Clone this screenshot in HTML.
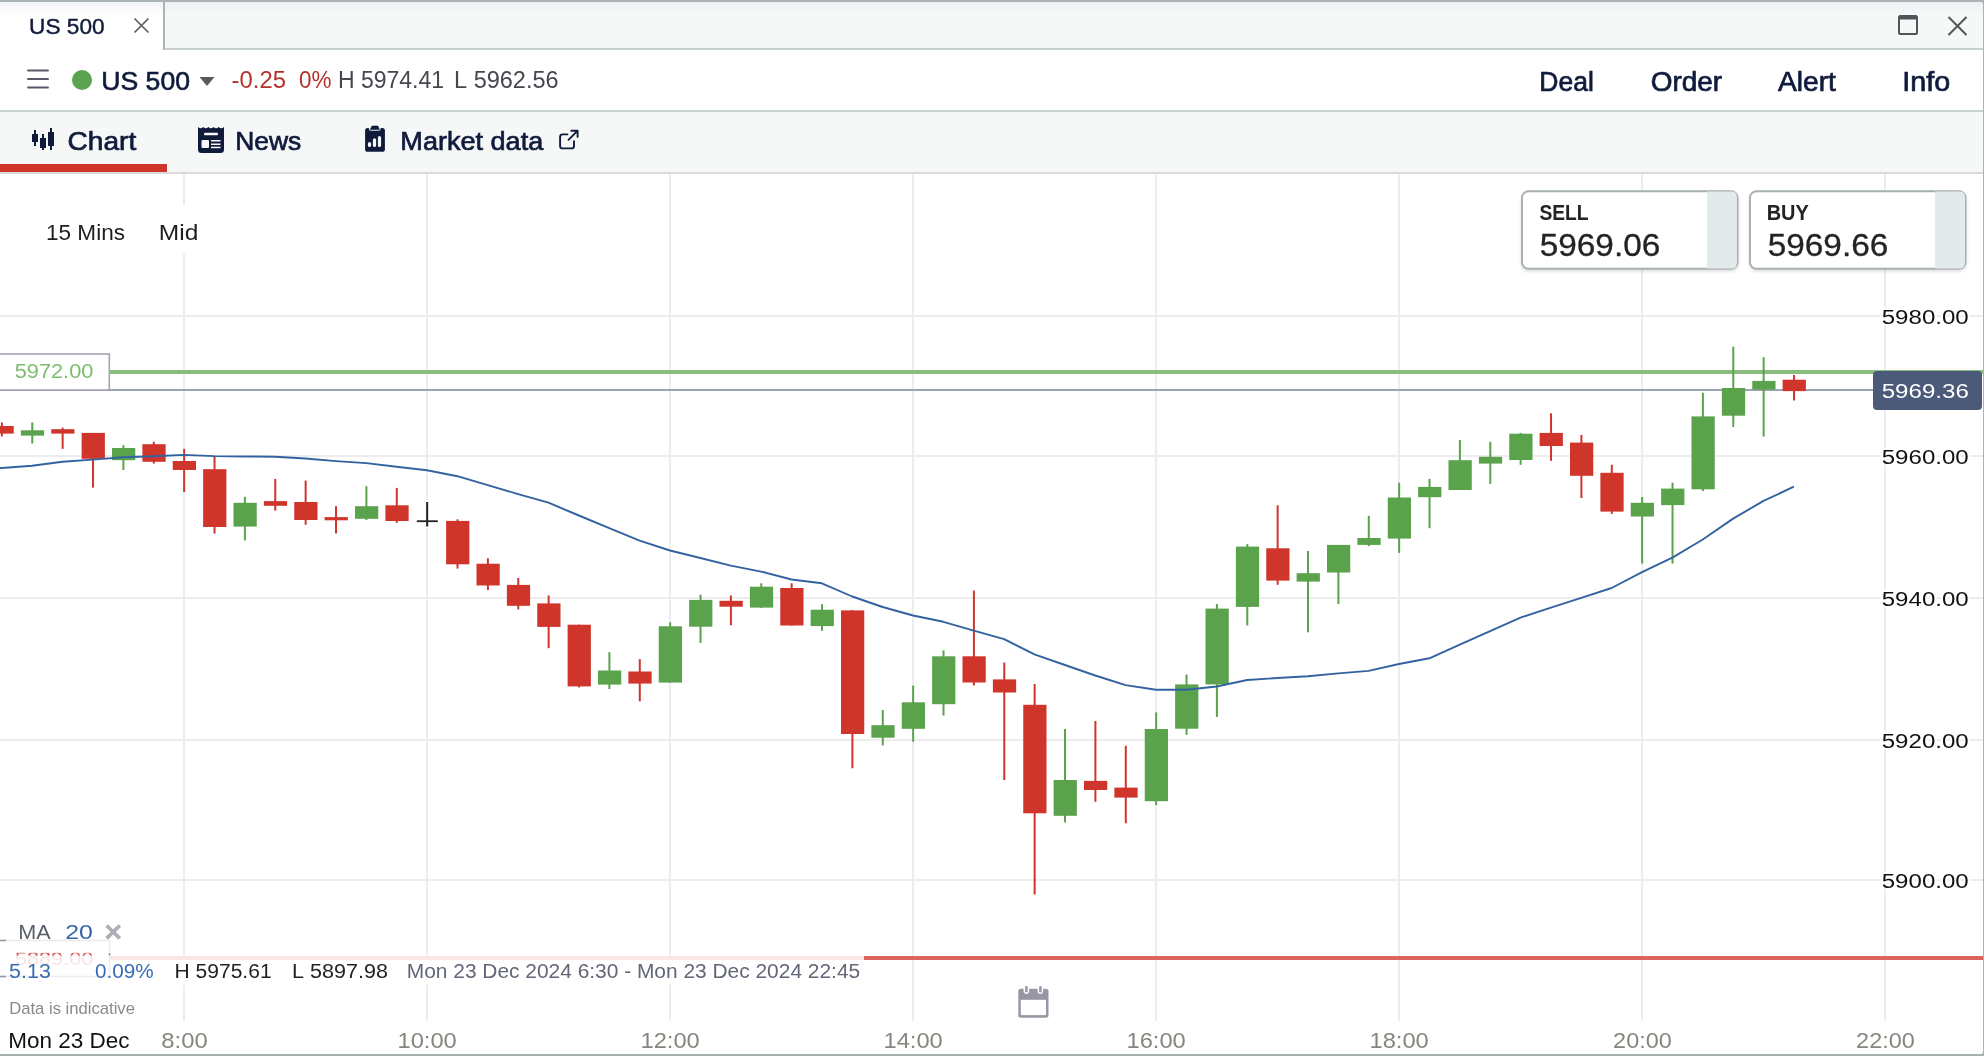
<!DOCTYPE html>
<html><head><meta charset="utf-8"><title>US 500 chart</title>
<style>
html,body{margin:0;padding:0;background:#fff;width:1984px;height:1056px;overflow:hidden}
svg{display:block;will-change:transform;font-family:"Liberation Sans",sans-serif;font-kerning:none}
text{font-kerning:none}
</style></head><body>
<svg width="1984" height="1056" viewBox="0 0 1984 1056">
<rect x="0" y="0" width="1984" height="1056" fill="#ffffff"/>
<defs><linearGradient id="tg" x1="0" y1="0" x2="0" y2="1"><stop offset="0" stop-color="#f1f4f6"/><stop offset="0.3" stop-color="#ffffff"/></linearGradient><linearGradient id="tg2" x1="0" y1="0" x2="0" y2="1"><stop offset="0" stop-color="#eef1f3"/><stop offset="0.3" stop-color="#f6f8f8"/></linearGradient><filter id="sh" x="-5%" y="-5%" width="110%" height="130%"><feDropShadow dx="0" dy="2" stdDeviation="1.5" flood-color="#000" flood-opacity="0.12"/></filter></defs>
<rect x="0" y="0" width="1984" height="50" fill="url(#tg2)"/>
<rect x="0" y="2" width="163" height="48" fill="url(#tg)"/>
<rect x="0" y="0" width="1984" height="2" fill="#aab3b6"/>
<rect x="163" y="2" width="2" height="48" fill="#adb4b7"/>
<rect x="165" y="48" width="1819" height="2" fill="#c7ced1"/>
<rect x="0" y="50" width="1984" height="60" fill="#ffffff"/>
<rect x="0" y="110" width="1984" height="2" fill="#c8d2d2"/>
<rect x="0" y="112" width="1984" height="60" fill="#f6f8f8"/>
<rect x="0" y="164" width="167" height="8" fill="#cf352b"/>
<rect x="0" y="172" width="1984" height="2" fill="#d8dadd"/>
<rect x="0" y="174" width="1984" height="880" fill="#ffffff"/>
<text x="29.05" y="33.90" font-size="22.00" fill="#101b3c" stroke="#101b3c" stroke-width="0.40" textLength="75.53" lengthAdjust="spacingAndGlyphs">US 500</text>
<path d="M134.5 18.5 L148.5 32.5 M148.5 18.5 L134.5 32.5" stroke="#555a5e" stroke-width="1.6" fill="none"/>
<rect x="1899" y="16" width="18" height="18" rx="1.5" fill="none" stroke="#4f5558" stroke-width="2"/>
<rect x="1899" y="15.5" width="18" height="4" fill="#4f5558"/>
<path d="M1948.5 17 L1966.5 35 M1966.5 17 L1948.5 35" stroke="#4f5558" stroke-width="2" fill="none"/>
<line x1="28" y1="70.5" x2="48" y2="70.5" stroke="#5b5868" stroke-width="2" stroke-linecap="round"/>
<line x1="28" y1="79" x2="48" y2="79" stroke="#5b5868" stroke-width="2" stroke-linecap="round"/>
<line x1="28" y1="87.5" x2="48" y2="87.5" stroke="#5b5868" stroke-width="2" stroke-linecap="round"/>
<circle cx="82" cy="80" r="10" fill="#5aa34e"/>
<text x="101.25" y="89.80" font-size="25.40" fill="#101b3c" stroke="#101b3c" stroke-width="0.60" textLength="88.79" lengthAdjust="spacingAndGlyphs">US 500</text>
<path d="M199.5 77 L214.5 77 L207 86 Z" fill="#565b5e"/>
<text x="231.64" y="88.20" font-size="23.00" fill="#b5322b" textLength="54.36" lengthAdjust="spacingAndGlyphs">-0.25</text>
<text x="299.02" y="88.20" font-size="23.00" fill="#b5322b" textLength="32.48" lengthAdjust="spacingAndGlyphs">0%</text>
<text x="337.91" y="88.20" font-size="23.00" fill="#45484f" textLength="106.11" lengthAdjust="spacingAndGlyphs">H 5974.41</text>
<text x="454.07" y="88.20" font-size="23.00" fill="#45484f" textLength="104.56" lengthAdjust="spacingAndGlyphs">L 5962.56</text>
<text x="1539.33" y="90.50" font-size="27.00" fill="#101b3c" stroke="#101b3c" stroke-width="0.70" textLength="54.44" lengthAdjust="spacingAndGlyphs">Deal</text>
<text x="1650.68" y="90.50" font-size="27.00" fill="#101b3c" stroke="#101b3c" stroke-width="0.70" textLength="71.39" lengthAdjust="spacingAndGlyphs">Order</text>
<text x="1777.94" y="90.50" font-size="27.00" fill="#101b3c" stroke="#101b3c" stroke-width="0.70" textLength="57.96" lengthAdjust="spacingAndGlyphs">Alert</text>
<text x="1902.35" y="90.50" font-size="27.00" fill="#101b3c" stroke="#101b3c" stroke-width="0.70" textLength="47.85" lengthAdjust="spacingAndGlyphs">Info</text>
<rect x="32" y="134" width="6" height="8" fill="#101b3c"/>
<rect x="34" y="130" width="2" height="16" fill="#101b3c"/>
<rect x="40" y="138" width="6" height="10" fill="#101b3c"/>
<rect x="42" y="134" width="2" height="16" fill="#101b3c"/>
<rect x="48" y="132" width="6" height="14" fill="#101b3c"/>
<rect x="50" y="128" width="2" height="22" fill="#101b3c"/>
<text x="67.57" y="149.80" font-size="26.00" fill="#101b3c" stroke="#101b3c" stroke-width="0.70" textLength="68.63" lengthAdjust="spacingAndGlyphs">Chart</text>
<path d="M198 127 q2.6 2.6 5.2 0 q2.6 2.6 5.2 0 q2.6 2.6 5.2 0 q2.6 2.6 5.2 0 q2.6 2.6 5.2 0 L224 149.5 q0 3.5 -3.5 3.5 L201.5 153 q-3.5 0 -3.5 -3.5 Z" fill="#101b3c"/>
<rect x="204" y="132.8" width="14" height="2.5" fill="#f6f8f8" rx="1"/>
<rect x="201.5" y="140" width="7.5" height="8" fill="#f6f8f8" rx="1"/>
<rect x="211" y="140" width="9.5" height="1.5" fill="#f6f8f8"/>
<rect x="211" y="143.5" width="9.5" height="1.5" fill="#f6f8f8"/>
<rect x="211" y="146.7" width="9.5" height="1.5" fill="#f6f8f8"/>
<text x="235.23" y="149.80" font-size="26.00" fill="#101b3c" stroke="#101b3c" stroke-width="0.70" textLength="66.02" lengthAdjust="spacingAndGlyphs">News</text>
<rect x="365.1" y="128" width="19.8" height="23.8" rx="2.6" fill="#101b3c"/>
<rect x="368.9" y="124" width="11.7" height="6.7" rx="1.8" fill="#f6f8f8"/>
<path d="M370.2 129.6 L372.1 126 L377.9 126 L379.4 129.6 Z" fill="#101b3c" stroke="#101b3c" stroke-width="0.6" stroke-linejoin="round"/>
<rect x="367.9" y="142" width="3.2" height="5" fill="#f6f8f8" rx="1.6"/>
<rect x="372.9" y="138.3" width="3.2" height="8.7" fill="#f6f8f8" rx="1.6"/>
<rect x="377.9" y="136" width="3.2" height="11" fill="#f6f8f8" rx="1.6"/>
<text x="400.38" y="149.60" font-size="26.00" fill="#101b3c" stroke="#101b3c" stroke-width="0.70" textLength="142.82" lengthAdjust="spacingAndGlyphs">Market data</text>
<path d="M567.4 134.4 L562.6 134.4 Q560.1 134.4 560.1 136.9 L560.1 145.9 Q560.1 148.4 562.6 148.4 L571.5 148.4 Q574 148.4 574 145.9 L574 141.2" fill="none" stroke="#101b3c" stroke-width="1.9" stroke-linecap="round"/>
<path d="M568.5 139.8 L577.4 130.9 M571.3 130.7 L577.6 130.7 L577.6 136.9" fill="none" stroke="#101b3c" stroke-width="1.9" stroke-linecap="round" stroke-linejoin="round"/>
<rect x="183" y="174" width="2" height="847" fill="#ededf0"/>
<rect x="426" y="174" width="2" height="847" fill="#ededf0"/>
<rect x="669" y="174" width="2" height="847" fill="#ededf0"/>
<rect x="912" y="174" width="2" height="847" fill="#ededf0"/>
<rect x="1155" y="174" width="2" height="847" fill="#ededf0"/>
<rect x="1398" y="174" width="2" height="847" fill="#ededf0"/>
<rect x="1641" y="174" width="2" height="847" fill="#ededf0"/>
<rect x="1884" y="174" width="2" height="847" fill="#ededf0"/>
<rect x="0" y="315" width="1983" height="2" fill="#ededf0"/>
<rect x="0" y="455" width="1983" height="2" fill="#ededf0"/>
<rect x="0" y="597" width="1983" height="2" fill="#ededf0"/>
<rect x="0" y="739" width="1983" height="2" fill="#ededf0"/>
<rect x="0" y="879" width="1983" height="2" fill="#ededf0"/>
<rect x="30" y="205" width="185" height="49" fill="#ffffff"/>
<text x="45.98" y="239.60" font-size="21.80" fill="#1e1e22" textLength="79.03" lengthAdjust="spacingAndGlyphs">15 Mins</text>
<text x="158.79" y="239.60" font-size="21.80" fill="#1e1e22" textLength="39.49" lengthAdjust="spacingAndGlyphs">Mid</text>
<rect x="110" y="370" width="1873" height="4" fill="#89bd7e"/>
<rect x="0" y="389" width="1873" height="2" fill="#9ba4b5"/>
<rect x="110" y="956" width="1873" height="4" fill="#dc645f"/>
<rect x="0.90" y="422.4" width="2" height="14.0" fill="#cf352b"/>
<rect x="-9.50" y="426.0" width="23.25" height="7.6" fill="#cf352b"/>
<rect x="31.27" y="422.4" width="2" height="21.1" fill="#5aa24c"/>
<rect x="20.88" y="430.3" width="23.25" height="5.3" fill="#5aa24c"/>
<rect x="61.65" y="427.7" width="2" height="21.1" fill="#cf352b"/>
<rect x="51.25" y="429.2" width="23.25" height="4.4" fill="#cf352b"/>
<rect x="92.03" y="432.9" width="2" height="54.7" fill="#cf352b"/>
<rect x="81.62" y="432.9" width="23.25" height="25.9" fill="#cf352b"/>
<rect x="122.40" y="445.2" width="2" height="24.8" fill="#5aa24c"/>
<rect x="112.00" y="448.0" width="23.25" height="12.2" fill="#5aa24c"/>
<rect x="152.78" y="441.7" width="2" height="21.9" fill="#cf352b"/>
<rect x="142.38" y="444.2" width="23.25" height="17.6" fill="#cf352b"/>
<rect x="183.15" y="448.8" width="2" height="43.2" fill="#cf352b"/>
<rect x="172.75" y="461.0" width="23.25" height="9.0" fill="#cf352b"/>
<rect x="213.53" y="457.0" width="2" height="76.5" fill="#cf352b"/>
<rect x="203.12" y="469.2" width="23.25" height="57.8" fill="#cf352b"/>
<rect x="243.90" y="496.7" width="2" height="43.7" fill="#5aa24c"/>
<rect x="233.50" y="502.8" width="23.25" height="23.8" fill="#5aa24c"/>
<rect x="274.27" y="479.0" width="2" height="31.6" fill="#cf352b"/>
<rect x="263.88" y="501.1" width="23.25" height="4.7" fill="#cf352b"/>
<rect x="304.65" y="480.6" width="2" height="44.1" fill="#cf352b"/>
<rect x="294.25" y="502.0" width="23.25" height="18.0" fill="#cf352b"/>
<rect x="335.02" y="506.2" width="2" height="27.3" fill="#cf352b"/>
<rect x="324.62" y="517.1" width="23.25" height="3.2" fill="#cf352b"/>
<rect x="365.40" y="486.2" width="2" height="33.8" fill="#5aa24c"/>
<rect x="355.00" y="506.2" width="23.25" height="12.6" fill="#5aa24c"/>
<rect x="395.77" y="487.9" width="2" height="34.9" fill="#cf352b"/>
<rect x="385.38" y="505.3" width="23.25" height="15.7" fill="#cf352b"/>
<rect x="426.15" y="502.0" width="2" height="24.5" fill="#232327"/>
<rect x="425.15" y="500.5" width="4" height="27.5" fill="#ffffff"/>
<rect x="426.15" y="502.0" width="2" height="24.5" fill="#232327"/>
<rect x="416.80" y="520.3" width="21" height="1.8" fill="#232327"/>
<rect x="456.52" y="519.3" width="2" height="49.3" fill="#cf352b"/>
<rect x="446.12" y="520.9" width="23.25" height="43.4" fill="#cf352b"/>
<rect x="486.90" y="558.3" width="2" height="31.6" fill="#cf352b"/>
<rect x="476.50" y="563.7" width="23.25" height="21.8" fill="#cf352b"/>
<rect x="517.27" y="578.0" width="2" height="31.4" fill="#cf352b"/>
<rect x="506.88" y="584.9" width="23.25" height="20.9" fill="#cf352b"/>
<rect x="547.65" y="595.5" width="2" height="52.7" fill="#cf352b"/>
<rect x="537.25" y="603.4" width="23.25" height="23.5" fill="#cf352b"/>
<rect x="578.02" y="624.7" width="2" height="62.7" fill="#cf352b"/>
<rect x="567.62" y="624.7" width="23.25" height="61.7" fill="#cf352b"/>
<rect x="608.40" y="652.2" width="2" height="36.8" fill="#5aa24c"/>
<rect x="598.00" y="670.5" width="23.25" height="14.1" fill="#5aa24c"/>
<rect x="638.77" y="659.1" width="2" height="42.2" fill="#cf352b"/>
<rect x="628.38" y="671.5" width="23.25" height="12.1" fill="#cf352b"/>
<rect x="669.15" y="622.3" width="2" height="60.3" fill="#5aa24c"/>
<rect x="658.75" y="626.3" width="23.25" height="56.3" fill="#5aa24c"/>
<rect x="699.52" y="594.7" width="2" height="48.2" fill="#5aa24c"/>
<rect x="689.12" y="599.9" width="23.25" height="26.8" fill="#5aa24c"/>
<rect x="729.90" y="595.5" width="2" height="29.8" fill="#cf352b"/>
<rect x="719.50" y="600.8" width="23.25" height="5.9" fill="#cf352b"/>
<rect x="760.27" y="583.3" width="2" height="24.6" fill="#5aa24c"/>
<rect x="749.88" y="586.7" width="23.25" height="20.9" fill="#5aa24c"/>
<rect x="790.65" y="583.3" width="2" height="42.3" fill="#cf352b"/>
<rect x="780.25" y="588.0" width="23.25" height="37.5" fill="#cf352b"/>
<rect x="821.02" y="604.2" width="2" height="26.6" fill="#5aa24c"/>
<rect x="810.62" y="609.7" width="23.25" height="16.4" fill="#5aa24c"/>
<rect x="851.40" y="610.0" width="2" height="158.3" fill="#cf352b"/>
<rect x="841.00" y="610.4" width="23.25" height="123.6" fill="#cf352b"/>
<rect x="881.77" y="710.0" width="2" height="35.4" fill="#5aa24c"/>
<rect x="871.38" y="725.2" width="23.25" height="12.5" fill="#5aa24c"/>
<rect x="912.15" y="685.6" width="2" height="56.1" fill="#5aa24c"/>
<rect x="901.75" y="702.3" width="23.25" height="26.5" fill="#5aa24c"/>
<rect x="942.52" y="650.4" width="2" height="65.1" fill="#5aa24c"/>
<rect x="932.12" y="656.3" width="23.25" height="47.9" fill="#5aa24c"/>
<rect x="972.90" y="590.6" width="2" height="94.8" fill="#cf352b"/>
<rect x="962.50" y="656.3" width="23.25" height="26.2" fill="#cf352b"/>
<rect x="1003.27" y="662.5" width="2" height="117.5" fill="#cf352b"/>
<rect x="992.88" y="679.4" width="23.25" height="13.1" fill="#cf352b"/>
<rect x="1033.65" y="684.0" width="2" height="210.5" fill="#cf352b"/>
<rect x="1023.25" y="704.8" width="23.25" height="108.5" fill="#cf352b"/>
<rect x="1064.03" y="729.0" width="2" height="93.4" fill="#5aa24c"/>
<rect x="1053.62" y="780.0" width="23.25" height="35.8" fill="#5aa24c"/>
<rect x="1094.40" y="720.9" width="2" height="80.9" fill="#cf352b"/>
<rect x="1084.00" y="780.9" width="23.25" height="9.1" fill="#cf352b"/>
<rect x="1124.78" y="745.8" width="2" height="77.5" fill="#cf352b"/>
<rect x="1114.38" y="787.6" width="23.25" height="10.0" fill="#cf352b"/>
<rect x="1155.15" y="712.4" width="2" height="92.8" fill="#5aa24c"/>
<rect x="1144.75" y="729.0" width="23.25" height="72.2" fill="#5aa24c"/>
<rect x="1185.53" y="674.6" width="2" height="60.3" fill="#5aa24c"/>
<rect x="1175.12" y="684.4" width="23.25" height="44.3" fill="#5aa24c"/>
<rect x="1215.90" y="604.0" width="2" height="112.9" fill="#5aa24c"/>
<rect x="1205.50" y="608.6" width="23.25" height="75.8" fill="#5aa24c"/>
<rect x="1246.28" y="544.1" width="2" height="81.3" fill="#5aa24c"/>
<rect x="1235.88" y="546.6" width="23.25" height="60.3" fill="#5aa24c"/>
<rect x="1276.65" y="505.3" width="2" height="79.5" fill="#cf352b"/>
<rect x="1266.25" y="548.3" width="23.25" height="32.3" fill="#cf352b"/>
<rect x="1307.03" y="551.0" width="2" height="81.3" fill="#5aa24c"/>
<rect x="1296.62" y="573.2" width="23.25" height="8.4" fill="#5aa24c"/>
<rect x="1337.40" y="545.0" width="2" height="59.0" fill="#5aa24c"/>
<rect x="1327.00" y="544.9" width="23.25" height="27.6" fill="#5aa24c"/>
<rect x="1367.78" y="515.8" width="2" height="30.3" fill="#5aa24c"/>
<rect x="1357.38" y="538.0" width="23.25" height="6.9" fill="#5aa24c"/>
<rect x="1398.15" y="482.7" width="2" height="70.2" fill="#5aa24c"/>
<rect x="1387.75" y="497.5" width="23.25" height="41.1" fill="#5aa24c"/>
<rect x="1428.53" y="478.9" width="2" height="49.3" fill="#5aa24c"/>
<rect x="1418.12" y="486.9" width="23.25" height="10.3" fill="#5aa24c"/>
<rect x="1458.90" y="440.0" width="2" height="50.0" fill="#5aa24c"/>
<rect x="1448.50" y="460.2" width="23.25" height="29.8" fill="#5aa24c"/>
<rect x="1489.28" y="441.8" width="2" height="42.1" fill="#5aa24c"/>
<rect x="1478.88" y="456.8" width="23.25" height="6.8" fill="#5aa24c"/>
<rect x="1519.65" y="432.9" width="2" height="31.9" fill="#5aa24c"/>
<rect x="1509.25" y="433.7" width="23.25" height="26.3" fill="#5aa24c"/>
<rect x="1550.03" y="413.3" width="2" height="47.5" fill="#cf352b"/>
<rect x="1539.62" y="432.9" width="23.25" height="13.1" fill="#cf352b"/>
<rect x="1580.40" y="434.9" width="2" height="63.1" fill="#cf352b"/>
<rect x="1570.00" y="442.6" width="23.25" height="33.2" fill="#cf352b"/>
<rect x="1610.78" y="464.8" width="2" height="49.1" fill="#cf352b"/>
<rect x="1600.38" y="472.8" width="23.25" height="38.8" fill="#cf352b"/>
<rect x="1641.15" y="496.9" width="2" height="66.7" fill="#5aa24c"/>
<rect x="1630.75" y="502.8" width="23.25" height="13.7" fill="#5aa24c"/>
<rect x="1671.53" y="482.7" width="2" height="80.9" fill="#5aa24c"/>
<rect x="1661.12" y="488.6" width="23.25" height="16.5" fill="#5aa24c"/>
<rect x="1701.90" y="392.7" width="2" height="98.3" fill="#5aa24c"/>
<rect x="1691.50" y="416.4" width="23.25" height="72.9" fill="#5aa24c"/>
<rect x="1732.28" y="346.6" width="2" height="80.4" fill="#5aa24c"/>
<rect x="1721.88" y="388.0" width="23.25" height="27.7" fill="#5aa24c"/>
<rect x="1762.65" y="357.2" width="2" height="79.3" fill="#5aa24c"/>
<rect x="1752.25" y="380.9" width="23.25" height="8.7" fill="#5aa24c"/>
<rect x="1793.03" y="375.0" width="2" height="25.5" fill="#cf352b"/>
<rect x="1782.62" y="379.7" width="23.25" height="11.4" fill="#cf352b"/>
<polyline points="-5,469 1.75,468.00 32.12,465.80 62.50,461.80 92.88,459.60 123.25,457.30 153.62,456.30 184.00,454.90 214.38,456.10 244.75,456.50 275.12,456.70 305.50,458.50 335.88,461.10 366.25,463.10 396.62,466.80 427.00,470.20 457.38,476.20 487.75,485.20 518.12,494.10 548.50,502.70 578.88,515.50 609.25,528.20 639.62,540.60 670.00,550.50 700.38,558.00 730.75,565.60 761.12,571.60 791.50,579.50 821.88,583.30 852.25,596.50 882.62,607.00 913.00,615.50 943.38,621.80 973.75,630.60 1004.12,639.20 1034.50,654.40 1064.88,665.00 1095.25,675.50 1125.62,685.10 1156.00,689.80 1186.38,689.80 1216.75,686.50 1247.12,680.00 1277.50,678.00 1307.88,676.20 1338.25,673.40 1368.62,670.90 1399.00,664.00 1429.38,658.30 1459.75,644.70 1490.12,631.20 1520.50,617.60 1550.88,607.70 1581.25,597.90 1611.62,588.00 1642.00,572.20 1672.38,557.60 1702.75,539.50 1733.12,518.60 1763.50,500.90 1793.88,486.70" fill="none" stroke="#33639f" stroke-width="1.9" stroke-linejoin="round"/>
<rect x="-2" y="354" width="111.3" height="36" fill="#ffffff" stroke="#a4a5b1" stroke-width="1.6"/>
<text x="14.73" y="378.00" font-size="20.00" fill="#7dbd70" textLength="78.62" lengthAdjust="spacingAndGlyphs">5972.00</text>
<rect x="-2" y="940.5" width="111.6" height="36" fill="#ffffff" stroke="#8f95a3" stroke-width="1.6"/>
<text x="15.03" y="964.50" font-size="19.20" fill="#d9534f" textLength="78.21" lengthAdjust="spacingAndGlyphs">5889.00</text>
<text x="1881.74" y="323.80" font-size="20.30" fill="#111111" textLength="87.00" lengthAdjust="spacingAndGlyphs" stroke="#ffffff" stroke-width="3.5" paint-order="stroke" stroke-linejoin="round">5980.00</text>
<text x="1881.74" y="463.80" font-size="20.30" fill="#111111" textLength="87.00" lengthAdjust="spacingAndGlyphs" stroke="#ffffff" stroke-width="3.5" paint-order="stroke" stroke-linejoin="round">5960.00</text>
<text x="1881.74" y="605.80" font-size="20.30" fill="#111111" textLength="87.00" lengthAdjust="spacingAndGlyphs" stroke="#ffffff" stroke-width="3.5" paint-order="stroke" stroke-linejoin="round">5940.00</text>
<text x="1881.74" y="747.80" font-size="20.30" fill="#111111" textLength="87.00" lengthAdjust="spacingAndGlyphs" stroke="#ffffff" stroke-width="3.5" paint-order="stroke" stroke-linejoin="round">5920.00</text>
<text x="1881.74" y="887.80" font-size="20.30" fill="#111111" textLength="87.00" lengthAdjust="spacingAndGlyphs" stroke="#ffffff" stroke-width="3.5" paint-order="stroke" stroke-linejoin="round">5900.00</text>
<rect x="1873" y="371" width="109" height="39" rx="4" fill="#4b5a78"/>
<text x="1881.73" y="398.00" font-size="20.30" fill="#ffffff" textLength="87.12" lengthAdjust="spacingAndGlyphs">5969.36</text>
<g filter="url(#sh)"><rect x="1522.0" y="191.2" width="215.6" height="77.6" rx="6.5" fill="#ffffff" stroke="#a6afb1" stroke-width="1.9"/></g>
<path d="M1707.0 191.6 L1731.7 191.6 Q1736.7 191.6 1736.7 196.6 L1736.7 263.5 Q1736.7 268.5 1731.7 268.5 L1707.0 268.5 Z" fill="#e3eaec"/>
<text x="1539.45" y="219.90" font-size="22.00" font-weight="bold" fill="#222326" textLength="49.15" lengthAdjust="spacingAndGlyphs">SELL</text>
<text x="1539.66" y="255.80" font-size="30.50" fill="#222326" stroke="#222326" stroke-width="0.30" textLength="120.60" lengthAdjust="spacingAndGlyphs">5969.06</text>
<g filter="url(#sh)"><rect x="1750.0" y="191.2" width="215.6" height="77.6" rx="6.5" fill="#ffffff" stroke="#a6afb1" stroke-width="1.9"/></g>
<path d="M1935.0 191.6 L1959.7 191.6 Q1964.7 191.6 1964.7 196.6 L1964.7 263.5 Q1964.7 268.5 1959.7 268.5 L1935.0 268.5 Z" fill="#e3eaec"/>
<text x="1766.66" y="219.90" font-size="22.00" font-weight="bold" fill="#222326" textLength="42.16" lengthAdjust="spacingAndGlyphs">BUY</text>
<text x="1767.66" y="255.80" font-size="30.50" fill="#222326" stroke="#222326" stroke-width="0.30" textLength="120.60" lengthAdjust="spacingAndGlyphs">5969.66</text>
<rect x="6" y="918" width="119" height="35" fill="#ffffff" fill-opacity="0.82"/>
<rect x="6" y="955.5" width="858" height="29" fill="#ffffff" fill-opacity="0.84"/>
<text x="18.23" y="939.30" font-size="20.80" fill="#5a5f6b" textLength="32.41" lengthAdjust="spacingAndGlyphs">MA</text>
<text x="65.25" y="939.30" font-size="20.80" fill="#3565a8" textLength="27.73" lengthAdjust="spacingAndGlyphs">20</text>
<path d="M106.6 925.5 L119.8 938.4 M119.8 925.5 L106.6 938.4" stroke="#acaeb5" stroke-width="3.6" fill="none"/>
<text x="9.14" y="977.60" font-size="19.30" fill="#3a6cb6" textLength="41.70" lengthAdjust="spacingAndGlyphs">5.13</text>
<text x="94.99" y="977.60" font-size="19.30" fill="#3a6cb6" textLength="58.75" lengthAdjust="spacingAndGlyphs">0.09%</text>
<text x="174.57" y="977.60" font-size="19.30" fill="#222226" textLength="97.05" lengthAdjust="spacingAndGlyphs">H 5975.61</text>
<text x="292.13" y="977.60" font-size="19.30" fill="#222226" textLength="95.80" lengthAdjust="spacingAndGlyphs">L 5897.98</text>
<text x="406.78" y="977.80" font-size="19.30" fill="#636677" textLength="453.39" lengthAdjust="spacingAndGlyphs">Mon 23 Dec 2024 6:30 - Mon 23 Dec 2024 22:45</text>
<text x="9.24" y="1014.20" font-size="17.00" fill="#8a8a8a" textLength="125.70" lengthAdjust="spacingAndGlyphs">Data is indicative</text>
<rect x="1018.3" y="988.8" width="30.2" height="29" rx="2.6" fill="#9797a4"/>
<rect x="1020.8" y="999.8" width="25.2" height="15.3" fill="#ffffff"/>
<rect x="1023.60" y="984" width="5.6" height="9.9" rx="2.8" fill="#ffffff"/>
<rect x="1025.15" y="986.1" width="2.5" height="6.5" rx="1.25" fill="#9797a4"/>
<rect x="1037.60" y="984" width="5.6" height="9.9" rx="2.8" fill="#ffffff"/>
<rect x="1039.15" y="986.1" width="2.5" height="6.5" rx="1.25" fill="#9797a4"/>
<text x="8.15" y="1047.50" font-size="21.70" fill="#111111" textLength="121.44" lengthAdjust="spacingAndGlyphs">Mon 23 Dec</text>
<text x="161.36" y="1048.00" font-size="21.70" fill="#86867f" textLength="46.37" lengthAdjust="spacingAndGlyphs">8:00</text>
<text x="397.49" y="1048.00" font-size="21.70" fill="#86867f" textLength="59.33" lengthAdjust="spacingAndGlyphs">10:00</text>
<text x="640.49" y="1048.00" font-size="21.70" fill="#86867f" textLength="59.33" lengthAdjust="spacingAndGlyphs">12:00</text>
<text x="883.49" y="1048.00" font-size="21.70" fill="#86867f" textLength="59.33" lengthAdjust="spacingAndGlyphs">14:00</text>
<text x="1126.49" y="1048.00" font-size="21.70" fill="#86867f" textLength="59.33" lengthAdjust="spacingAndGlyphs">16:00</text>
<text x="1369.49" y="1048.00" font-size="21.70" fill="#86867f" textLength="59.33" lengthAdjust="spacingAndGlyphs">18:00</text>
<text x="1613.12" y="1048.00" font-size="21.70" fill="#86867f" textLength="58.70" lengthAdjust="spacingAndGlyphs">20:00</text>
<text x="1856.12" y="1048.00" font-size="21.70" fill="#86867f" textLength="58.70" lengthAdjust="spacingAndGlyphs">22:00</text>
<rect x="0" y="1054" width="1984" height="2" fill="#a8b0b4"/>
<rect x="1983" y="0" width="1" height="1056" fill="#aab2b5"/>
<path d="M1980.5 2 L1983 2 L1983 4.5 Q1983 2 1980.5 2 Z" fill="#aab2b5"/>
<path d="M1980.5 1054 L1983 1054 L1983 1051.5 Q1983 1054 1980.5 1054 Z" fill="#a8b0b4"/>
</svg>
</body></html>
